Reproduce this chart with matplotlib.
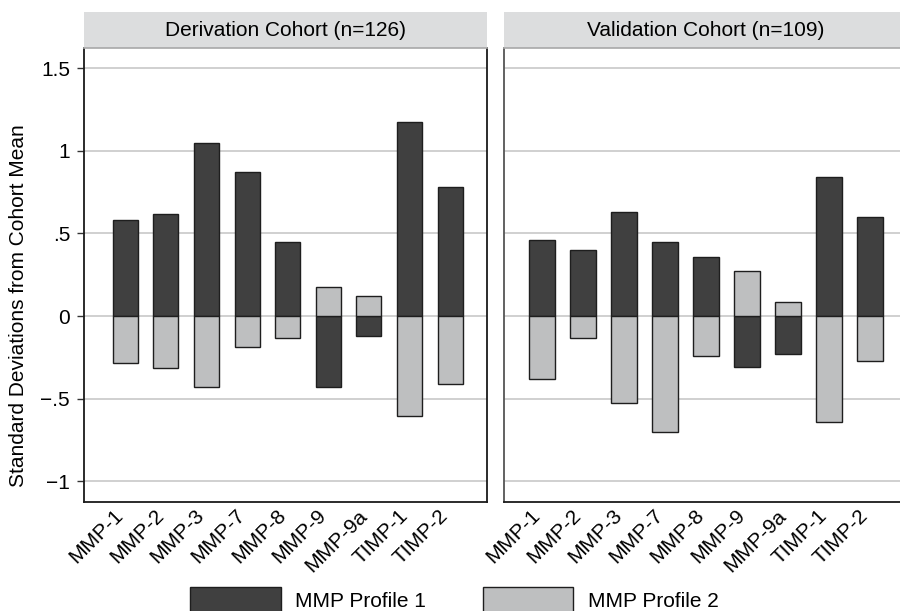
"""
MMP profile bar chart: standard deviations from cohort mean
Derivation vs validation cohort, two profiles per marker
"""
import numpy as np
import matplotlib
matplotlib.use("Agg")
import matplotlib.pyplot as plt
import matplotlib.transforms as mtransforms
from matplotlib.patches import Rectangle

# ============================================================
# Data
# ============================================================

markers = ["MMP-1", "MMP-2", "MMP-3", "MMP-7", "MMP-8",
           "MMP-9", "MMP-9a", "TIMP-1", "TIMP-2"]

deriv_profile1 = [0.58, 0.62, 1.05, 0.875, 0.45, -0.43, -0.12, 1.175, 0.78]
deriv_profile2 = [-0.285, -0.315, -0.43, -0.185, -0.135, 0.175, 0.12, -0.605, -0.41]

valid_profile1 = [0.46, 0.40, 0.63, 0.45, 0.355, -0.31, -0.23, 0.84, 0.60]
valid_profile2 = [-0.38, -0.135, -0.53, -0.705, -0.24, 0.27, 0.083, -0.645, -0.27]

panel_titles = ["Derivation Cohort (n=126)", "Validation Cohort (n=109)"]
legend_labels = ["MMP Profile 1", "MMP Profile 2"]

ytick_vals = [-1, -0.5, 0, 0.5, 1, 1.5]
ytick_labels = ["\u22121", "\u2212.5", "0", ".5", "1", "1.5"]

# ============================================================
# Style
# ============================================================

W, H = 900, 611
DARK = "#404040"
LIGHT = "#bebfc0"
EDGE = "#1e1e1e"
GRID = "#c8c8c8"
STRIP = "#dcddde"
FS = 15

plt.rcParams['font.family'] = ['Liberation Sans', 'DejaVu Sans']


def px_rect(x0, y0, x1, y1):
    """pixel box (top-down y) -> figure fraction [l, b, w, h]"""
    return [x0 / W, 1 - y1 / H, (x1 - x0) / W, (y1 - y0) / H]


def draw_panel(fig, box, p1, p2, title, xlim, show_y=False):
    ax = fig.add_axes(px_rect(*box))
    x = np.arange(len(markers))
    ax.bar(x, p1, width=0.615, color=DARK, edgecolor=EDGE, linewidth=1.0, zorder=3)
    ax.bar(x, p2, width=0.615, color=LIGHT, edgecolor=EDGE, linewidth=1.0, zorder=3)

    ax.set_xlim(*xlim)
    ax.set_ylim(-1.125, 1.622)
    ax.set_yticks(ytick_vals)
    ax.yaxis.grid(True, color=GRID, linewidth=1.2, zorder=0)
    ax.set_axisbelow(True)

    if show_y:
        ax.set_yticklabels(ytick_labels, fontsize=FS)
        ax.tick_params(axis='y', length=5, width=1, pad=5, color="#333333")
    else:
        ax.tick_params(axis='y', length=0, labelleft=False)

    ax.set_xticks(x)
    ax.set_xticklabels(markers, fontsize=FS, rotation=45)
    ax.tick_params(axis='x', length=0, pad=8)
    shift = mtransforms.ScaledTranslation(-5 / 100, 0, fig.dpi_scale_trans)
    for lbl in ax.get_xticklabels():
        lbl.set_ha('right')
        lbl.set_va('center')
        lbl.set_rotation_mode('anchor')
        lbl.set_transform(lbl.get_transform() + shift)

    ax.spines['top'].set_visible(False)
    for s in ['left', 'right', 'bottom']:
        ax.spines[s].set_color("#1a1a1a")
        ax.spines[s].set_linewidth(1.3)
    if not show_y:
        ax.spines['left'].set_color("#555555")

    # strip header above the panel
    x0, y0, x1, y1 = box
    fig.patches.append(Rectangle((x0 / W, 1 - 48.3 / H), (x1 - x0) / W, 36 / H,
                                 transform=fig.transFigure, facecolor=STRIP,
                                 edgecolor="none", zorder=1))
    fig.lines.append(plt.Line2D([x0 / W, x1 / W], [1 - 48.3 / H] * 2,
                                transform=fig.transFigure, color="#a8a8a8", lw=1.2))
    fig.text((x0 + x1) / 2 / W, 1 - 30 / H, title, ha='center', va='center', fontsize=FS)
    return ax


fig = plt.figure(figsize=(W / 100, H / 100), dpi=100)

ax1 = draw_panel(fig, (84, 48.3, 487.3, 501.7), deriv_profile1, deriv_profile2,
                 panel_titles[0], (-1.014, 8.913), show_y=True)
ax1.set_ylabel("Standard Deviations from Cohort Mean", fontsize=FS)
ax1.yaxis.set_label_coords(28 / W, 0.5, transform=fig.transFigure)

ax2 = draw_panel(fig, (504, 48.3, 907, 501.7), valid_profile1, valid_profile2,
                 panel_titles[1], (-0.927, 8.9))

# legend (boxes run off the bottom edge like the original)
for (bx0, bx1, tx), col, lab in zip([(190, 281, 295), (483, 573.3, 588)],
                                    [DARK, LIGHT], legend_labels):
    fig.patches.append(Rectangle((bx0 / W, 1 - 617 / H), (bx1 - bx0) / W, 30 / H,
                                 transform=fig.transFigure, facecolor=col,
                                 edgecolor=EDGE, linewidth=1.0))
    fig.text(tx / W, 1 - 607 / H, lab, ha='left', va='baseline', fontsize=FS)

fig.savefig("out.png", dpi=100)
